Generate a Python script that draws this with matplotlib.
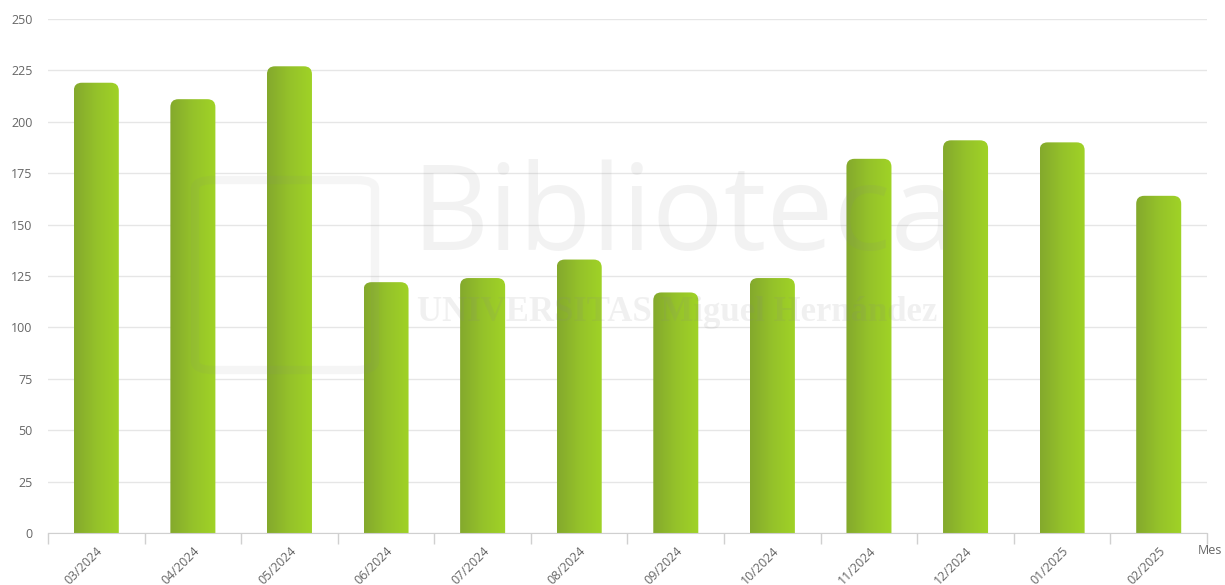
import numpy as np
import matplotlib.pyplot as plt
from matplotlib.patches import FancyBboxPatch
from matplotlib.colors import LinearSegmentedColormap

# data
months = ['03/2024', '04/2024', '05/2024', '06/2024', '07/2024', '08/2024',
          '09/2024', '10/2024', '11/2024', '12/2024', '01/2025', '02/2025']
values = [219, 211, 227, 122, 124, 133, 117, 124, 182, 191, 190, 164]
yticks = [0, 25, 50, 75, 100, 125, 150, 175, 200, 225, 250]

plt.rcParams['font.family'] = ['Open Sans', 'DejaVu Sans']

fig = plt.figure(figsize=(12.25, 5.85), dpi=100)
ax = fig.add_axes([48 / 1225, 1 - 533 / 585, (1207 - 48) / 1225, (533 - 19) / 585])

ax.set_xlim(-0.5, len(months) - 0.5)
ax.set_ylim(0, 250)

# grid
ax.set_yticks(yticks)
ax.yaxis.grid(True, color='#e6e6e6', lw=1)
ax.set_axisbelow(True)
for s in ['top', 'right', 'left']:
    ax.spines[s].set_visible(False)
ax.spines['bottom'].set_color('#d0d0d0')
ax.tick_params(axis='y', length=0, labelsize=9, labelcolor='#666666', pad=11)

# x ticks between categories, labels rotated at category centre
x = np.arange(len(months))
ax.set_xticks(x)
ax.set_xticklabels(months, rotation=45, ha='right', rotation_mode='anchor',
                   fontsize=9, color='#666666')
ax.tick_params(axis='x', which='major', length=0, pad=8)
ax.set_xticks(np.arange(-0.5, len(months)), minor=True)
ax.tick_params(axis='x', which='minor', length=8, color='#d0d0d0', width=1)

# bars: rounded tops with horizontal green gradient
cmap = LinearSegmentedColormap.from_list('g', ['#84a92d', '#95c22a', '#a0d326'])
grad = np.linspace(0, 1, 64).reshape(1, -1)
w = 0.466
for xi, v in zip(x, values):
    patch = FancyBboxPatch((xi - w / 2, -20), w, v + 20,
                           boxstyle='round,pad=0,rounding_size=0.083',
                           mutation_aspect=47, facecolor='none', edgecolor='none')
    ax.add_patch(patch)
    im = ax.imshow(grad, extent=[xi - w / 2, xi + w / 2, 0, v], cmap=cmap,
                   aspect='auto', origin='lower', zorder=2)
    im.set_clip_path(patch)

ax.set_xlim(-0.5, len(months) - 0.5)
ax.set_ylim(0, 250)

# faint watermark
fig.text(0.559, 0.625, 'Biblioteca', fontsize=86, color='#888888', alpha=0.1,
         ha='center', va='center', zorder=5)
fig.text(0.553, 0.465, 'UNIVERSITAS Miguel Hernández', fontsize=25, color='#888888',
         alpha=0.12, ha='center', va='center', family='Liberation Serif',
         fontweight='bold', zorder=5)
frame = FancyBboxPatch((195 / 1225, 1 - 370 / 585), 180 / 1225, 190 / 585,
                       boxstyle='round,pad=0,rounding_size=0.015',
                       transform=fig.transFigure, facecolor='none',
                       edgecolor='#888888', lw=6, alpha=0.08, zorder=5)
fig.add_artist(frame)

# axis title
fig.text(1198 / 1225, 1 - 551 / 585, 'Mes', fontsize=9, color='#666666',
         ha='left', va='center')

fig.savefig('out.png', dpi=100, facecolor='white')
